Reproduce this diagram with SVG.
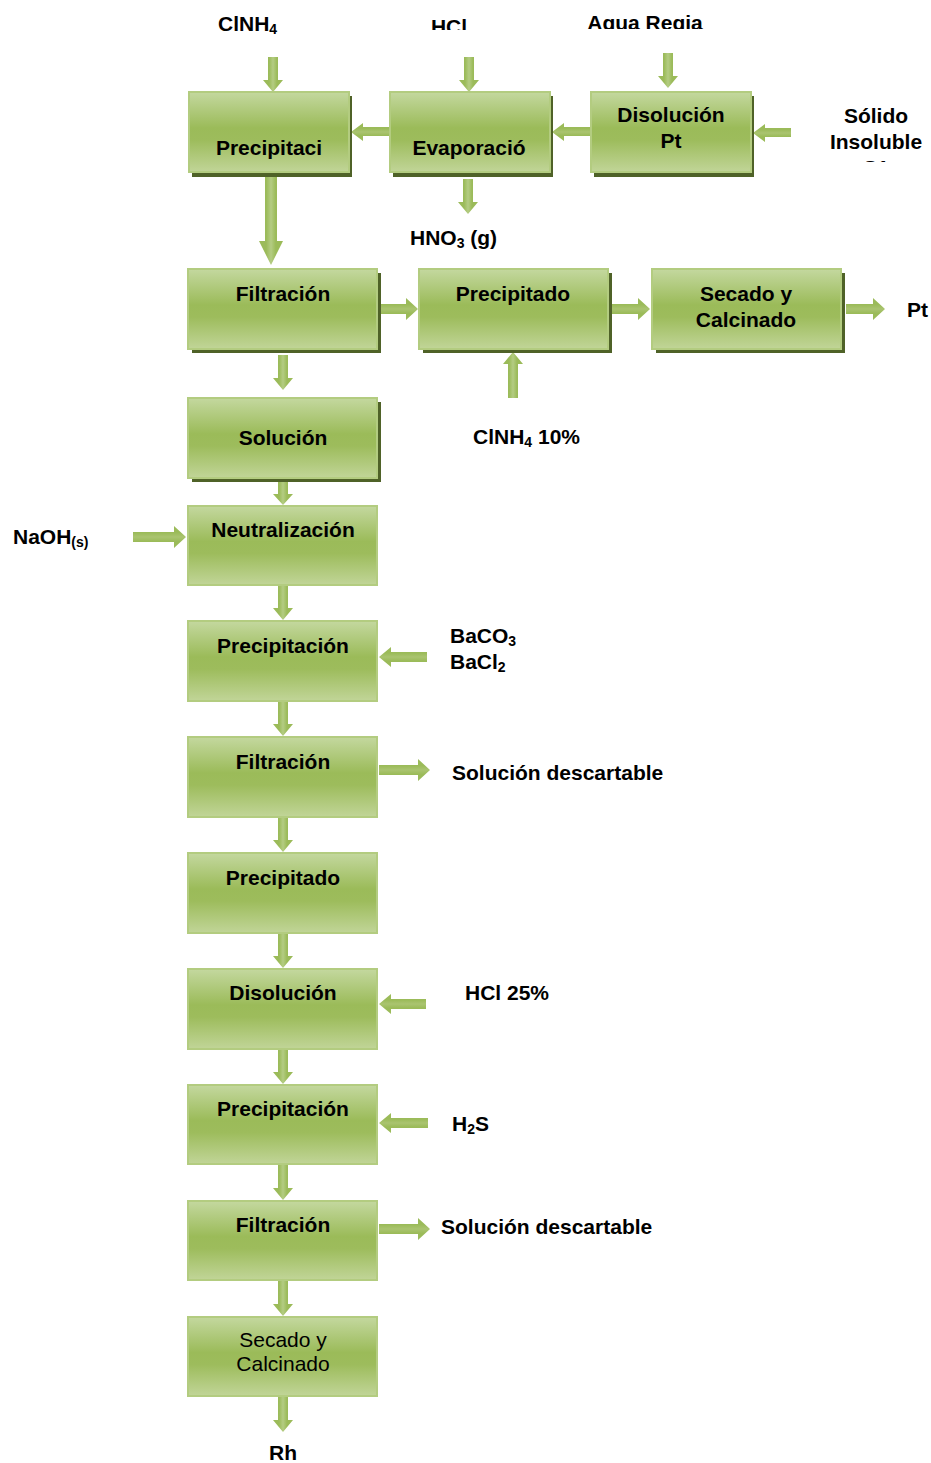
<svg xmlns="http://www.w3.org/2000/svg" width="931" height="1463" viewBox="0 0 931 1463">
  <defs>
    <linearGradient id="boxFill" x1="0" y1="0" x2="0" y2="1">
      <stop offset="0" stop-color="#c4d89f"/>
      <stop offset="0.45" stop-color="#9bbb59"/>
      <stop offset="0.6" stop-color="#9dbc5c"/>
      <stop offset="1" stop-color="#c1d598"/>
    </linearGradient>
    <linearGradient id="arrowV" x1="0" y1="0" x2="1" y2="0">
      <stop offset="0" stop-color="#9bbb59"/>
      <stop offset="0.3" stop-color="#9bbb59"/>
      <stop offset="0.5" stop-color="#b4cc83"/>
      <stop offset="0.7" stop-color="#9bbb59"/>
      <stop offset="1" stop-color="#9bbb59"/>
    </linearGradient>
    <linearGradient id="arrowH" x1="0" y1="0" x2="0" y2="1">
      <stop offset="0" stop-color="#9bbb59"/>
      <stop offset="0.3" stop-color="#9bbb59"/>
      <stop offset="0.5" stop-color="#aac470"/>
      <stop offset="0.7" stop-color="#9bbb59"/>
      <stop offset="1" stop-color="#9bbb59"/>
    </linearGradient>
    <clipPath id="clipHcl"><rect x="400" y="0" width="140" height="30"/></clipPath>
    <clipPath id="clipAgua"><rect x="570" y="0" width="160" height="29"/></clipPath>
    <clipPath id="clipSolido"><rect x="800" y="95" width="131" height="67"/></clipPath>
  </defs>
  <style>
    .box { fill: url(#boxFill); stroke: #b3cc80; stroke-width: 2; }
    .shadow { fill: #4f6228; }
    .lbl { font-family: "Liberation Sans", Arial, sans-serif; font-size: 21px; font-weight: bold; fill: #000; }
    .reg { font-family: "Liberation Sans", Arial, sans-serif; font-size: 21px; font-weight: normal; fill: #000; }
    .mid { text-anchor: middle; }
    .sub { font-size: 14px; }
    .av { fill: url(#arrowV); }
    .ah { fill: url(#arrowH); }
  </style>

  <!-- connectors: block arrows -->
  <g id="connectors">
    <!-- feeds into top row -->
    <path class="av" d="M268,57 H278 V80 H283 L273,92 L263,80 H268 Z"/>
    <path class="av" d="M464,57 H474 V80 H479 L469,92 L459,80 H464 Z"/>
    <path class="av" d="M663,53 H673 V76 H678 L668,88 L658,76 H663 Z"/>
    <!-- top row, right to left -->
    <path class="ah" d="M389,127 V136 H363 V141 L351,132 L363,123 V127 Z"/>
    <path class="ah" d="M590,127 V136 H564 V141 L552,132 L564,123 V127 Z"/>
    <path class="ah" d="M791,128 V137 H765 V142 L753,133 L765,124 V128 Z"/>
    <!-- Evaporación to HNO3 -->
    <path class="av" d="M463,179 H473 V202 H478 L468,214 L458,202 H463 Z"/>
    <!-- Precipitación to Filtración (wide) -->
    <path class="av" d="M265,175 H277 V241 H283 L271,265 L259,241 H265 Z"/>
    <!-- second row, left to right -->
    <path class="ah" d="M379,304 H406 V298 L418,309 L406,320 V314 H379 Z"/>
    <path class="ah" d="M610,304 H638 V298 L650,309 L638,320 V314 H610 Z"/>
    <path class="ah" d="M846,304 H873 V298 L885,309 L873,320 V314 H846 Z"/>
    <!-- ClNH4 10% up into Precipitado -->
    <path class="av" d="M508,398 H518 V364 H523 L513,352 L503,364 H508 Z"/>
    <!-- main column -->
    <path class="av" d="M278,355 H288 V378 H293 L283,390 L273,378 H278 Z"/>
    <path class="av" d="M278,479 H288 V494 H293 L283,505 L273,494 H278 Z"/>
    <path class="av" d="M278,586 H288 V608 H293 L283,620 L273,608 H278 Z"/>
    <path class="av" d="M278,702 H288 V724 H293 L283,736 L273,724 H278 Z"/>
    <path class="av" d="M278,818 H288 V840 H293 L283,852 L273,840 H278 Z"/>
    <path class="av" d="M278,934 H288 V956 H293 L283,968 L273,956 H278 Z"/>
    <path class="av" d="M278,1050 H288 V1072 H293 L283,1084 L273,1072 H278 Z"/>
    <path class="av" d="M278,1165 H288 V1188 H293 L283,1200 L273,1188 H278 Z"/>
    <path class="av" d="M278,1281 H288 V1304 H293 L283,1316 L273,1304 H278 Z"/>
    <path class="av" d="M278,1397 H288 V1420 H293 L283,1432 L273,1420 H278 Z"/>
    <!-- side inputs / outputs -->
    <path class="ah" d="M133,532 H174 V526 L186,537 L174,548 V542 H133 Z"/>
    <path class="ah" d="M427,652 V662 H391 V667 L379,657 L391,647 V652 Z"/>
    <path class="ah" d="M379,765 H418 V759 L430,770 L418,781 V775 H379 Z"/>
    <path class="ah" d="M426,999 V1009 H391 V1014 L379,1004 L391,994 V999 Z"/>
    <path class="ah" d="M428,1118 V1128 H391 V1133 L379,1123 L391,1113 V1118 Z"/>
    <path class="ah" d="M379,1224 H418 V1218 L430,1229 L418,1240 V1234 H379 Z"/>
  </g>

  <!-- top row -->
  <g id="node-precipitacion-1">
    <rect class="shadow" x="192" y="96" width="160" height="81"/>
    <rect class="box" x="189" y="92" width="160" height="80"/>
    <text class="lbl mid" x="269" y="155">Precipitaci</text>
  </g>
  <g id="node-evaporacion">
    <rect class="shadow" x="393" y="96" width="160" height="81"/>
    <rect class="box" x="390" y="92" width="160" height="80"/>
    <text class="lbl mid" x="469" y="155">Evaporació</text>
  </g>
  <g id="node-disolucion-pt">
    <rect class="shadow" x="594" y="96" width="160" height="81"/>
    <rect class="box" x="591" y="92" width="160" height="80"/>
    <text class="lbl mid" x="671" y="122">Disolución</text>
    <text class="lbl mid" x="671" y="148">Pt</text>
  </g>

  <!-- second row -->
  <g id="node-filtracion-1">
    <rect class="shadow" x="192" y="273" width="189" height="80"/>
    <rect class="box" x="188" y="269" width="189" height="80"/>
    <text class="lbl mid" x="283" y="301">Filtración</text>
  </g>
  <g id="node-precipitado-1">
    <rect class="shadow" x="423" y="273" width="189" height="80"/>
    <rect class="box" x="419" y="269" width="189" height="80"/>
    <text class="lbl mid" x="513" y="301">Precipitado</text>
  </g>
  <g id="node-secado-1">
    <rect class="shadow" x="656" y="273" width="189" height="80"/>
    <rect class="box" x="652" y="269" width="189" height="80"/>
    <text class="lbl mid" x="746" y="301">Secado y</text>
    <text class="lbl mid" x="746" y="327">Calcinado</text>
  </g>

  <!-- main column -->
  <g id="node-solucion">
    <rect class="shadow" x="192" y="402" width="189" height="80"/>
    <rect class="box" x="188" y="398" width="189" height="80"/>
    <text class="lbl mid" x="283" y="445">Solución</text>
  </g>
  <g id="node-neutralizacion">
    <rect class="box" x="188" y="506" width="189" height="79"/>
    <text class="lbl mid" x="283" y="537">Neutralización</text>
  </g>
  <g id="node-precipitacion-2">
    <rect class="box" x="188" y="621" width="189" height="80"/>
    <text class="lbl mid" x="283" y="653">Precipitación</text>
  </g>
  <g id="node-filtracion-2">
    <rect class="box" x="188" y="737" width="189" height="80"/>
    <text class="lbl mid" x="283" y="769">Filtración</text>
  </g>
  <g id="node-precipitado-2">
    <rect class="box" x="188" y="853" width="189" height="80"/>
    <text class="lbl mid" x="283" y="885">Precipitado</text>
  </g>
  <g id="node-disolucion">
    <rect class="box" x="188" y="969" width="189" height="80"/>
    <text class="lbl mid" x="283" y="1000">Disolución</text>
  </g>
  <g id="node-precipitacion-3">
    <rect class="box" x="188" y="1085" width="189" height="79"/>
    <text class="lbl mid" x="283" y="1116">Precipitación</text>
  </g>
  <g id="node-filtracion-3">
    <rect class="box" x="188" y="1201" width="189" height="79"/>
    <text class="lbl mid" x="283" y="1232">Filtración</text>
  </g>
  <g id="node-secado-2">
    <rect class="box" x="188" y="1317" width="189" height="79"/>
    <text class="reg mid" x="283" y="1347">Secado y</text>
    <text class="reg mid" x="283" y="1371">Calcinado</text>
  </g>

  <!-- stream labels -->
  <g id="labels">
    <text class="lbl" x="218" y="31">ClNH<tspan class="sub" dy="3">4</tspan></text>
    <text class="lbl mid" x="449" y="34" clip-path="url(#clipHcl)">HCl</text>
    <text class="lbl mid" x="645" y="30" clip-path="url(#clipAgua)">Agua Regia</text>
    <g clip-path="url(#clipSolido)">
      <text class="lbl mid" x="876" y="123">Sólido</text>
      <text class="lbl mid" x="876" y="149">Insoluble</text>
      <text class="lbl mid" x="876" y="175">S1</text>
    </g>
    <text class="lbl" x="410" y="245">HNO<tspan class="sub" dy="3">3</tspan><tspan dy="-3"> (g)</tspan></text>
    <text class="lbl" x="907" y="317">Pt</text>
    <text class="lbl" x="473" y="444">ClNH<tspan class="sub" dy="3">4</tspan><tspan dy="-3"> 10%</tspan></text>
    <text class="lbl" x="13" y="544">NaOH<tspan class="sub" dy="3">(s)</tspan></text>
    <text class="lbl" x="450" y="643">BaCO<tspan class="sub" dy="3">3</tspan></text>
    <text class="lbl" x="450" y="669">BaCl<tspan class="sub" dy="3">2</tspan></text>
    <text class="lbl" x="452" y="780">Solución descartable</text>
    <text class="lbl" x="465" y="1000">HCl 25%</text>
    <text class="lbl" x="452" y="1131">H<tspan class="sub" dy="3">2</tspan><tspan dy="-3">S</tspan></text>
    <text class="lbl" x="441" y="1234">Solución descartable</text>
    <text class="lbl mid" x="283" y="1460">Rh</text>
  </g>
</svg>
